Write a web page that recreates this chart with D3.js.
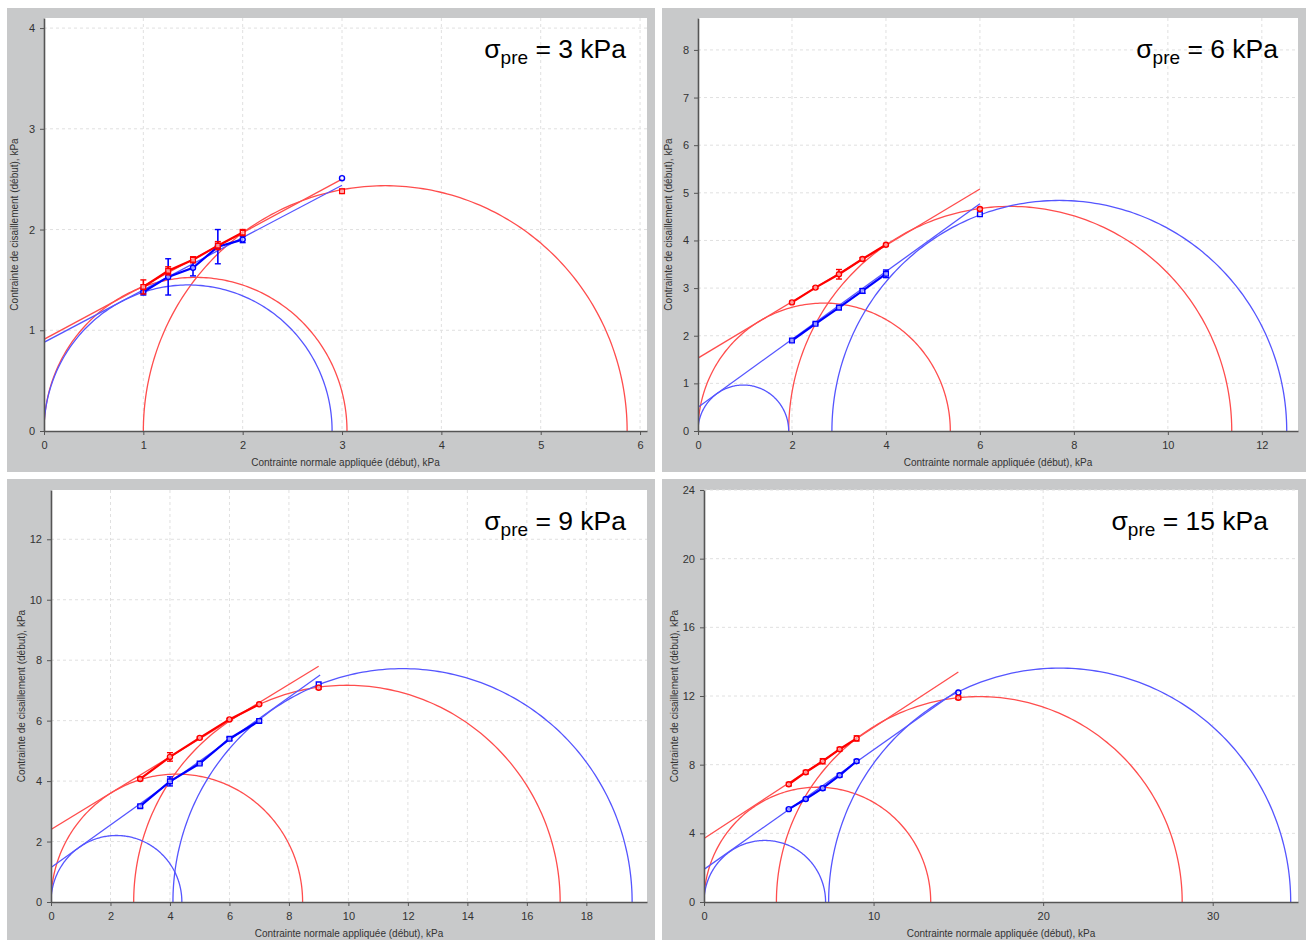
<!DOCTYPE html>
<html><head><meta charset="utf-8">
<script src="https://cdn.jsdelivr.net/npm/d3@7"></script>
<style>body{margin:0;background:#fff}svg{display:block}</style>
</head><body>
<svg id="c" width="1306" height="940"></svg>
<script>
// ---------- data ----------
const titles = ["3", "6", "9", "15"];
const xTicks1 = [0,1,2,3,4,5,6], yTicks1 = [0,1,2,3,4];
const xTicks2 = [0,2,4,6,8,10,12], yTicks2 = [0,1,2,3,4,5,6,7,8];
const xTicks3 = [0,2,4,6,8,10,12,14,16,18], yTicks3 = [0,2,4,6,8,10,12];
const xTicks4 = [0,10,20,30], yTicks4 = [0,4,8,12,16,20,24];

const sig1 = [1, 1.25, 1.5, 1.75, 2, 3];
const red1 = [1.43, 1.59, 1.70, 1.84, 1.97, 2.38];
const blue1 = [1.38, 1.53, 1.62, 1.83, 1.90, 2.51];
const redErr1 = [0.07, 0.04, 0.03, 0.04, 0.03, 0.02];
const blueErr1 = [0.03, 0.18, 0.08, 0.17, 0.03, 0];
const redFit1 = [[0, 0.91], [3, 2.50]];
const blueFit1 = [[0, 0.88], [3, 2.44]];
const redCircles1 = [[0, 3.05], [1.0, 5.87]];
const blueCircles1 = [[0, 2.90]];

const sig2 = [2, 2.5, 3, 3.5, 4, 6];
const red2 = [2.70, 3.01, 3.29, 3.61, 3.91, 4.66];
const blue2 = [1.90, 2.25, 2.59, 2.94, 3.30, 4.55];
const redErr2 = [0.02, 0.02, 0.10, 0.03, 0.02, 0.03];
const blueErr2 = [0.03, 0.02, 0.03, 0.05, 0.08, 0];
const redFit2 = [[0, 1.53], [6, 5.08]];
const blueFit2 = [[0, 0.50], [6, 4.77]];
const redCircles2 = [[0, 5.37], [1.93, 11.36]];
const blueCircles2 = [[0, 1.93], [2.85, 12.53]];

const sig3 = [3, 4, 5, 6, 7, 9];
const red3 = [4.07, 4.80, 5.43, 6.04, 6.54, 7.09];
const blue3 = [3.17, 3.99, 4.58, 5.40, 5.99, 7.20];
const redErr3 = [0.05, 0.14, 0.03, 0.03, 0.03, 0.05];
const blueErr3 = [0.05, 0.15, 0.03, 0.05, 0.05, 0];
const redFit3 = [[0, 2.40], [9, 7.80]];
const blueFit3 = [[0, 1.14], [9.05, 7.51]];
const redCircles3 = [[0, 8.46], [2.78, 17.12]];
const blueCircles3 = [[0, 4.40], [4.10, 19.54]];

const sig4 = [5, 6, 7, 8, 9, 15];
const red4 = [6.86, 7.56, 8.20, 8.90, 9.53, 11.90];
const blue4 = [5.41, 6.00, 6.63, 7.38, 8.20, 12.20];
const redErr4 = [0.10, 0.10, 0.15, 0.10, 0.15, 0.10];
const blueErr4 = [0.05, 0.05, 0.10, 0.10, 0.10, 0];
const redFit4 = [[0, 3.70], [15, 13.40]];
const blueFit4 = [[0, 1.90], [15, 12.35]];
const redCircles4 = [[0, 13.37], [4.27, 28.20]];
const blueCircles4 = [[0, 7.17], [7.35, 34.60]];

const redShapes = ["square", "circle", "circle", "circle"];
const blueShapes = ["circle", "square", "square", "circle"];

// ---------- layout ----------
const frames = [[7, 8, 648, 464], [662, 8, 644, 464], [7, 479, 648, 461], [662, 479, 644, 461]];
const plots = [
  {l: 44, t: 18, r: 647, b: 431, xmax: 6.07, ymax: 4.1, tx: 21},
  {l: 698, t: 18, r: 1298, b: 431, xmax: 12.77, ymax: 8.67, tx: 20},
  {l: 51, t: 490, r: 647, b: 902, xmax: 20.04, ymax: 13.63, tx: 21},
  {l: 704, t: 490, r: 1298, b: 902, xmax: 35.03, ymax: 24, tx: 30}
];

const panels = [
  {xt: xTicks1, yt: yTicks1, s: sig1, red: red1, blue: blue1, re: redErr1, be: blueErr1, rf: redFit1, bf: blueFit1, rc: redCircles1, bc: blueCircles1},
  {xt: xTicks2, yt: yTicks2, s: sig2, red: red2, blue: blue2, re: redErr2, be: blueErr2, rf: redFit2, bf: blueFit2, rc: redCircles2, bc: blueCircles2},
  {xt: xTicks3, yt: yTicks3, s: sig3, red: red3, blue: blue3, re: redErr3, be: blueErr3, rf: redFit3, bf: blueFit3, rc: redCircles3, bc: blueCircles3},
  {xt: xTicks4, yt: yTicks4, s: sig4, red: red4, blue: blue4, re: redErr4, be: blueErr4, rf: redFit4, bf: blueFit4, rc: redCircles4, bc: blueCircles4}
];

const svg = d3.select("#c");
const FONT = "'Liberation Sans', Arial, sans-serif";
const RED = "#ff0000", BLUE = "#0000ff", LRED = "#ff4d4d", LBLUE = "#5555ff";

panels.forEach((P, i) => {
  const f = frames[i], L = plots[i];
  svg.append("rect").attr("x", f[0]).attr("y", f[1]).attr("width", f[2]).attr("height", f[3])
    .attr("fill", "#c8c9ca");
  svg.append("rect").attr("x", L.l).attr("y", L.t).attr("width", L.r - L.l).attr("height", L.b - L.t)
    .attr("fill", "#fff");

  const x = d3.scaleLinear().domain([0, L.xmax]).range([L.l, L.r]);
  const y = d3.scaleLinear().domain([0, L.ymax]).range([L.b, L.t]);
  const g = svg.append("g");

  // grid
  g.selectAll(".gx").data(P.xt.filter(v => v > 0)).join("line")
    .attr("x1", d => x(d)).attr("x2", d => x(d)).attr("y1", L.t).attr("y2", L.b)
    .attr("stroke", "#e0e0e0").attr("stroke-dasharray", "3,3").attr("stroke-width", 1);
  g.selectAll(".gy").data(P.yt.filter(v => v > 0)).join("line")
    .attr("x1", L.l).attr("x2", L.r).attr("y1", d => y(d)).attr("y2", d => y(d))
    .attr("stroke", "#e0e0e0").attr("stroke-dasharray", "3,3").attr("stroke-width", 1);

  const cid = "clip" + i;
  svg.append("clipPath").attr("id", cid).append("rect")
    .attr("x", L.l).attr("y", L.t - 2).attr("width", L.r - L.l).attr("height", L.b - L.t + 2);
  const pg = g.append("g").attr("clip-path", `url(#${cid})`);

  // Mohr circles
  const arc = (a, b) => {
    const c = (a + b) / 2, r = (b - a) / 2;
    const pts = d3.range(0, 181).map(k => {
      const th = Math.PI - k * Math.PI / 180;
      return [c + r * Math.cos(th), r * Math.sin(th)];
    });
    return d3.line().x(d => x(d[0])).y(d => y(d[1]))(pts);
  };
  P.rc.forEach(c => pg.append("path").attr("d", arc(c[0], c[1])).attr("fill", "none")
    .attr("stroke", LRED).attr("stroke-width", 1.3));
  P.bc.forEach(c => pg.append("path").attr("d", arc(c[0], c[1])).attr("fill", "none")
    .attr("stroke", LBLUE).attr("stroke-width", 1.3));

  // fit lines
  const ln = d3.line().x(d => x(d[0])).y(d => y(d[1]));
  pg.append("path").attr("d", ln(P.bf)).attr("stroke", LBLUE).attr("stroke-width", 1.3).attr("fill", "none");
  pg.append("path").attr("d", ln(P.rf)).attr("stroke", LRED).attr("stroke-width", 1.3).attr("fill", "none");

  // series
  const series = [
    {v: P.blue, e: P.be, col: BLUE, shape: blueShapes[i]},
    {v: P.red, e: P.re, col: RED, shape: redShapes[i]}
  ];
  series.forEach(S => {
    const pts = P.s.map((s, k) => [s, S.v[k], S.e[k]]);
    pg.append("path").attr("d", ln(pts.slice(0, 5))).attr("stroke", S.col)
      .attr("stroke-width", 2.2).attr("fill", "none");
    pts.forEach(p => {
      if (p[2] > 0) {
        const x0 = x(p[0]), y1 = y(p[1] + p[2]), y2 = y(p[1] - p[2]);
        pg.append("line").attr("x1", x0).attr("x2", x0).attr("y1", y1).attr("y2", y2)
          .attr("stroke", S.col).attr("stroke-width", 1.6);
        [y1, y2].forEach(yy => pg.append("line").attr("x1", x0 - 3).attr("x2", x0 + 3)
          .attr("y1", yy).attr("y2", yy).attr("stroke", S.col).attr("stroke-width", 1.4));
      }
      const sym = d3.symbol().type(S.shape === "square" ? d3.symbolSquare : d3.symbolCircle)
        .size(S.shape === "square" ? 22 : 20);
      pg.append("path").attr("d", sym()).attr("transform", `translate(${x(p[0])},${y(p[1])})`)
        .attr("fill", "#fff").attr("fill-opacity", 0.6).attr("stroke", S.col).attr("stroke-width", 1.4);
    });
  });

  // axes
  const fmt = d3.format("d");
  const xa = g.append("g").attr("transform", `translate(0,${L.b})`)
    .call(d3.axisBottom(x).tickValues(P.xt).tickFormat(fmt).tickSize(4).tickSizeOuter(0).tickPadding(6));
  const ya = g.append("g").attr("transform", `translate(${L.l},0)`)
    .call(d3.axisLeft(y).tickValues(P.yt).tickFormat(fmt).tickSize(4).tickSizeOuter(0).tickPadding(5));
  [xa, ya].forEach(a => {
    a.select(".domain").attr("stroke", "#555").attr("stroke-width", 1.6);
    a.selectAll(".tick line").attr("stroke", "#555");
    a.selectAll("text").attr("font-family", FONT).attr("font-size", 11).attr("fill", "#333");
  });

  // axis labels
  g.append("text").attr("x", (L.l + L.r) / 2).attr("y", L.b + 35)
    .attr("text-anchor", "middle").attr("font-family", FONT).attr("font-size", 10).attr("fill", "#333")
    .text("Contrainte normale appliquée (début), kPa");
  g.append("text").attr("transform", `translate(${L.l - 26},${(L.t + L.b) / 2}) rotate(-90)`)
    .attr("text-anchor", "middle").attr("font-family", FONT).attr("font-size", 10).attr("fill", "#333")
    .text("Contrainte de cisaillement (début), kPa");

  // title
  const t = g.append("text").attr("x", L.r - L.tx).attr("y", L.t + 40)
    .attr("text-anchor", "end").attr("font-family", FONT).attr("font-size", 26.5).attr("fill", "#000");
  t.append("tspan").text("σ");
  t.append("tspan").attr("font-size", 19).attr("dy", 6).text("pre");
  t.append("tspan").attr("dy", -6).text(" = " + titles[i] + " kPa");
});
</script>
</body></html>
